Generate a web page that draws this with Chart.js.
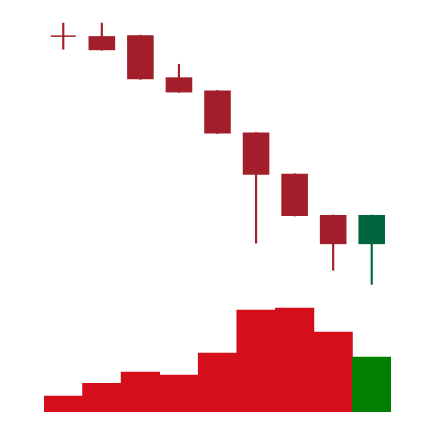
<!DOCTYPE html>
<html>
<head>
<meta charset="utf-8">
<script src="https://cdn.jsdelivr.net/npm/chart.js@4"></script>
<style>
  html, body { margin: 0; padding: 0; background: #ffffff; }
  #wrap { width: 434px; height: 422px; }
</style>
</head>
<body>
<div id="wrap"><canvas id="c" width="434" height="422"></canvas></div>
<script>
// ---- data ----
const categories = ["1", "2", "3", "4", "5", "6", "7", "8", "9"];
const openPrices  = [97.4, 97.4, 97.5, 93.3, 92.0, 87.8, 83.7, 79.6, 76.7];
const closePrices = [97.4, 96.0, 93.1, 91.8, 87.7, 83.6, 79.5, 76.7, 79.6];
const highPrices  = [98.7, 98.7, 97.5, 94.6, 92.0, 87.8, 83.7, 79.6, 79.6];
const lowPrices   = [96.1, 96.0, 93.1, 91.8, 87.7, 76.8, 79.5, 74.1, 72.7];
const volumes     = [160, 287, 400, 370, 590, 1020, 1040, 800, 550];
const priceRange  = [60, 100];
const volumeRange = [0, 4020];

// ---- colours ----
const bodyDown = "#A21E2B";
const bodyUp   = "#00663D";
const volDown  = "#D40F1B";
const volUp    = "#007F00";

const isUp = categories.map((_, i) => closePrices[i] > openPrices[i]);
const bodyColors = isUp.map(u => u ? bodyUp : bodyDown);
const volColors  = isUp.map(u => u ? volUp : volDown);

const bodies = categories.map((_, i) => [openPrices[i], closePrices[i]]);
const wicks  = categories.map((_, i) => [lowPrices[i], highPrices[i]]);
const doji   = categories.map((_, i) => openPrices[i] === closePrices[i] ? closePrices[i] : null);

new Chart(document.getElementById("c"), {
  type: "bar",
  data: {
    labels: categories,
    datasets: [
      {
        label: "Body",
        data: bodies,
        yAxisID: "y",
        backgroundColor: bodyColors,
        borderWidth: 0,
        grouped: false,
        barPercentage: 0.69,
        categoryPercentage: 1,
        order: 1
      },
      {
        label: "Doji",
        type: "line",
        data: doji,
        yAxisID: "y",
        showLine: false,
        pointStyle: "line",
        pointRadius: 12.5,
        pointHoverRadius: 12.5,
        pointBorderWidth: 1.5,
        borderColor: bodyDown,
        backgroundColor: bodyDown,
        order: 0
      },
      {
        label: "Wick",
        data: wicks,
        yAxisID: "y",
        backgroundColor: bodyColors,
        borderWidth: 0,
        grouped: false,
        barThickness: 1.5,
        order: 2
      },
      {
        label: "Volume",
        data: volumes,
        yAxisID: "yv",
        backgroundColor: volColors,
        borderWidth: 0,
        grouped: false,
        barPercentage: 1,
        categoryPercentage: 1,
        order: 3
      }
    ]
  },
  options: {
    responsive: false,
    animation: false,
    devicePixelRatio: 1,
    layout: { autoPadding: false, padding: { left: 44, right: 43, top: 10, bottom: 10 } },
    plugins: { legend: { display: false }, tooltip: { enabled: false } },
    scales: {
      x: { display: false, offset: true, grid: { display: false } },
      y: { display: false, min: priceRange[0], max: priceRange[1] },
      yv: { display: false, min: volumeRange[0], max: volumeRange[1] }
    }
  }
});
</script>
</body>
</html>
